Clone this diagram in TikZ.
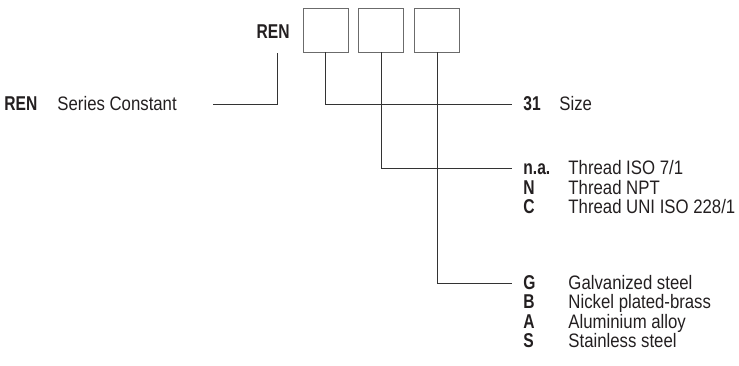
\documentclass[tikz,border=0pt]{standalone}
\usepackage{fontspec}
\setmainfont{Liberation Sans}[FakeStretch=0.86]
\newfontface\codefont{Liberation Sans Bold}[FakeStretch=0.78]
\usetikzlibrary{positioning}
\definecolor{cink}{HTML}{231F20}
\definecolor{cline}{HTML}{333333}
\definecolor{cbox}{HTML}{6B6B6B}
\tikzset{
  every picture/.style={x=1pt, y=-1pt, line width=0.9pt},
  slot/.style={draw=cbox, minimum width=45pt, minimum height=44pt, inner sep=0pt},
  code/.style={font={\codefont\fontsize{20}{22}\selectfont}, text=cink, inner sep=0pt,
    text height=13.6pt, text depth=0pt, anchor=base west},
  desc/.style={font={\fontsize{19.5}{22}\selectfont}, text=cink, inner sep=0pt, anchor=base west},
  lead/.style={draw=cline, line width=0.9pt},
}
\begin{document}
\begin{tikzpicture}
  \useasboundingbox (0,0) rectangle (739,365);
  % code: REN + three slots
  \node[code, anchor=base east] (ren) at (290,38.5) {REN};
  \node[slot] (b1) at (325.5,30) {};
  \node[slot, right=10pt of b1] (b2) {};
  \node[slot, right=10pt of b2] (b3) {};
  % series constant on the left
  \node[code] (renc) at (4,110.5) {REN};
  \node[desc] (rend) at (57,110.5) {Series Constant};
  \coordinate (renTop) at (277,53);
  \coordinate (renEnd) at (213,104);
  \draw[lead] (renTop) |- (renEnd);
  % option lists
  \node[code] (c-31) at (523,110.8) {31};
  \node[desc] (d-31) at (559,110.8) {Size};
  \foreach \n/\c/\d/\y in {na/{n.a.}/{Thread ISO 7/1}/174.8, npt/N/{Thread NPT}/194.5,
      uni/C/{Thread UNI ISO 228/1}/213.8, gal/G/{Galvanized steel}/289.8,
      nic/B/{Nickel plated-brass}/308.8, alu/A/{Aluminium alloy}/328.3,
      sta/S/{Stainless steel}/347.5} {
    \node[code] (c-\n) at (523,\y) {\c};
    \node[desc] (d-\n) at (568,\y) {\d};
  }
  % leaders from the slots
  \draw[lead] (b1.south) |- ([xshift=-11pt]c-31.west);
  \draw[lead] (b2.south) |- ([xshift=-11pt]c-na.west);
  \draw[lead] (b3.south) |- ([xshift=-11pt]c-gal.west);
\end{tikzpicture}
\end{document}
